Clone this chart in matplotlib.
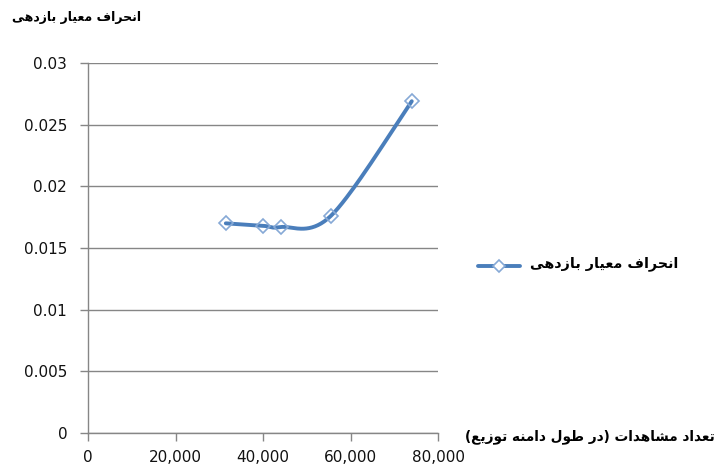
import numpy as np
import matplotlib
matplotlib.use("Agg")
import matplotlib.pyplot as plt
from matplotlib.ticker import FuncFormatter

# Data: number of observations vs. return standard deviation
observations = [31500, 40000, 44000, 55500, 74000]
std_return = [0.0170, 0.0168, 0.0167, 0.0176, 0.0269]

x_ticks = [0, 20000, 40000, 60000, 80000]
y_ticks = [0, 0.005, 0.01, 0.015, 0.02, 0.025, 0.03]

# Persian labels, pre-shaped into presentation forms in visual (left-to-right) order
series_name = ("\uFBFD\uFEEB\uFEA9\uFEAF\uFE8E\uFE91 "
               "\uFEAD\uFE8E\uFBFF\uFECC\uFEE3 "
               "\uFED1\uFE8D\uFEAE\uFEA4\uFEE7\uFE8D")
x_label = ("(\uFECA\uFBFE\uFEAF\uFEEE\uFE97 "
           "\uFEEA\uFEE8\uFEE3\uFE8D\uFEA9 "
           "\uFEDD\uFEEE\uFEC3 "
           "\uFEAD\uFEA9) "
           "\uFE95\uFE8D\uFEAA\uFEEB\uFE8E\uFEB8\uFEE3 "
           "\uFEA9\uFE8D\uFEAA\uFECC\uFE97")


def smooth_curve(xs, ys, steps=40):
    """Cubic Bezier smoothing through the points (Catmull-Rom style)."""
    p = np.column_stack([xs, ys]).astype(float)
    ext = np.vstack([p[0], p, p[-1]])
    out = []
    t = np.linspace(0, 1, steps)[:, None]
    for i in range(len(p) - 1):
        p0, p1, p2, p3 = ext[i], ext[i + 1], ext[i + 2], ext[i + 3]
        c1 = p1 + (p2 - p0) / 6.0
        c2 = p2 - (p3 - p1) / 6.0
        seg = ((1 - t) ** 3) * p1 + 3 * ((1 - t) ** 2) * t * c1 \
            + 3 * (1 - t) * t ** 2 * c2 + t ** 3 * p2
        out.append(seg if i == 0 else seg[1:])
    seg = np.vstack(out)
    return seg[:, 0], seg[:, 1]


W, H = 727, 468
fig = plt.figure(figsize=(W / 100, H / 100), dpi=100)
ax = fig.add_axes([88 / W, 1 - 433 / H, 350 / W, 370 / H])

line_color = "#4A7EBB"
marker_edge = "#86A9D6"
axis_gray = "#868686"

sx, sy = smooth_curve(observations, std_return)
ax.plot(sx, sy, color=line_color, lw=2.8, solid_capstyle="round", zorder=3)
ax.plot(observations, std_return, linestyle="none", marker="D", ms=7.5,
        mfc="none", mec=marker_edge, mew=1.2, zorder=4)

ax.set_xlim(0, 80000)
ax.set_ylim(0, 0.03)
ax.set_xticks(x_ticks)
ax.set_yticks(y_ticks)
ax.xaxis.set_major_formatter(FuncFormatter(lambda v, _: f"{int(v):,}"))
ax.yaxis.set_major_formatter(FuncFormatter(lambda v, _: f"{v:g}"))

ax.yaxis.grid(True, color=axis_gray, lw=1.0)
ax.set_axisbelow(True)
for side in ("top", "right"):
    ax.spines[side].set_visible(False)
for side in ("left", "bottom"):
    ax.spines[side].set_color(axis_gray)
    ax.spines[side].set_linewidth(1.0)
ax.tick_params(axis="both", colors=axis_gray, labelcolor="#111111",
               labelsize=11, length=6, width=1.0)
ax.tick_params(axis="y", pad=9)
ax.tick_params(axis="x", pad=6)

# Chart texts
fig.text(12 / W, 1 - 18 / H, series_name, fontsize=9, fontweight="bold",
         ha="left", va="center", family="DejaVu Sans")
fig.text(465 / W, 1 - 437 / H, x_label, fontsize=9.8, fontweight="bold",
         ha="left", va="center", family="DejaVu Sans")

# Legend: line sample with marker, then the series name
y_leg = 1 - 266 / H
fig.lines.append(plt.Line2D([478 / W, 520 / W], [y_leg, y_leg],
                            transform=fig.transFigure, color=line_color,
                            lw=2.8, solid_capstyle="round"))
fig.lines.append(plt.Line2D([499 / W], [y_leg], transform=fig.transFigure,
                            linestyle="none", marker="D", ms=6.5, mfc="white",
                            mec=marker_edge, mew=1.2))
fig.text(530 / W, 1 - 264 / H, series_name, fontsize=10.3, fontweight="bold",
         ha="left", va="center", family="DejaVu Sans")

fig.savefig("out.png", dpi=100)
